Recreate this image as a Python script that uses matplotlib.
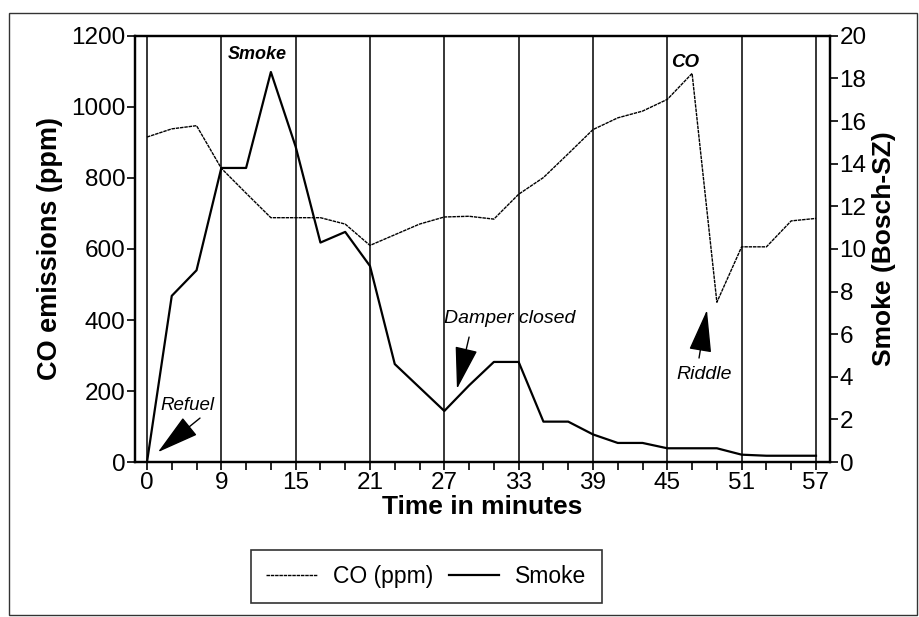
import matplotlib.pyplot as plt
from matplotlib.patches import Rectangle

plt.rcParams["font.family"] = ["Liberation Sans", "DejaVu Sans"]

# Sampling times (min) -- plotted as evenly spaced categories
times = [0, 3, 6, 9, 11, 13, 15, 17, 19, 21, 23, 25, 27, 29, 31, 33, 35, 37, 39,
         41, 43, 45, 47, 49, 51, 53, 55, 57]
co_ppm = [915, 938, 947, 827, 757, 688, 688, 688, 670, 610, 640, 670, 690, 692,
          684, 754, 801, 868, 936, 969, 988, 1021, 1094, 450, 606, 606, 679, 686]
smoke = [0, 7.8, 9.0, 13.8, 13.8, 18.3, 14.8, 10.3, 10.8, 9.2, 4.6, 3.5, 2.4, 3.6,
         4.7, 4.7, 1.9, 1.9, 1.3, 0.9, 0.9, 0.65, 0.65, 0.65, 0.35, 0.3, 0.3, 0.3]

idx = list(range(len(times)))
labelled = idx[::3]

fig = plt.figure(figsize=(9.19, 6.17), dpi=100)
ax = fig.add_axes([0.147, 0.251, 0.756, 0.691])
ax2 = ax.twinx()

co_line, = ax.plot(idx, co_ppm, color="black", lw=1.0, linestyle=(0, (2.5, 0.6)),
                   label="CO (ppm)")
sm_line, = ax2.plot(idx, smoke, color="black", lw=1.6, label="Smoke")

for i in labelled:
    ax.axvline(i, color="black", lw=1.1, zorder=0)

ax.set_xlim(-0.48, 27.56)
ax.set_ylim(0, 1200)
ax2.set_ylim(0, 20)
ax.set_xticks(idx, minor=True)
ax.set_xticks(labelled)
ax.set_xticklabels([str(times[i]) for i in labelled])
ax.set_yticks(range(0, 1201, 200))
ax2.set_yticks(range(0, 21, 2))

ax.tick_params(axis="both", which="both", direction="out", length=6, width=1.2,
               labelsize=17.5, pad=1)
ax.tick_params(axis="x", which="minor", length=6, width=1.2)
ax2.tick_params(axis="y", direction="out", length=6, width=1.2, labelsize=17.5, pad=1)

for a in (ax, ax2):
    for s in a.spines.values():
        s.set_linewidth(1.6)

ax.set_xlabel("Time in minutes", fontsize=19, fontweight="bold", labelpad=1)
ax.set_ylabel("CO emissions (ppm)", fontsize=19.5, fontweight="bold", labelpad=6)
ax2.set_ylabel("Smoke (Bosch-SZ)", fontsize=19, fontweight="bold", labelpad=4)

# Event annotations
ax.text(4.44, 1146, "Smoke", fontsize=13, fontweight="bold", style="italic",
        ha="center", va="center")
ax.text(21.7, 1124, "CO", fontsize=13.5, fontweight="bold", style="italic",
        ha="center", va="center")

arrow = dict(arrowstyle="-|>,head_length=1.5,head_width=0.4", color="black",
             lw=1.0, mutation_scale=18, shrinkA=0, shrinkB=0)
ax.annotate("", xy=(0.44, 28), xytext=(2.14, 124), arrowprops=arrow)
ax.text(1.65, 160, "Refuel", fontsize=13.5, style="italic", ha="center", va="center")
ax.annotate("", xy=(12.51, 206), xytext=(13.0, 352), arrowprops=arrow)
ax.text(14.65, 405, "Damper closed", fontsize=14, style="italic", ha="center",
        va="center")
ax.annotate("", xy=(22.6, 428), xytext=(22.28, 293), arrowprops=arrow)
ax.text(22.5, 248, "Riddle", fontsize=14, style="italic", ha="center", va="center")

leg = fig.legend(handles=[co_line, sm_line], loc="center",
                 bbox_to_anchor=(0.464, 0.066), ncol=2, fontsize=16.5,
                 frameon=True, fancybox=False, borderpad=0.65, handlelength=2.2,
                 columnspacing=0.7, handletextpad=0.7)
leg.get_frame().set_edgecolor("black")
leg.get_frame().set_linewidth(1.2)

# Outer frame around the figure
fig.patches.append(Rectangle((0.010, 0.003), 0.988, 0.976, transform=fig.transFigure,
                             fill=False, edgecolor="#333333", lw=1.0))

fig.savefig("out.png", dpi=100)
